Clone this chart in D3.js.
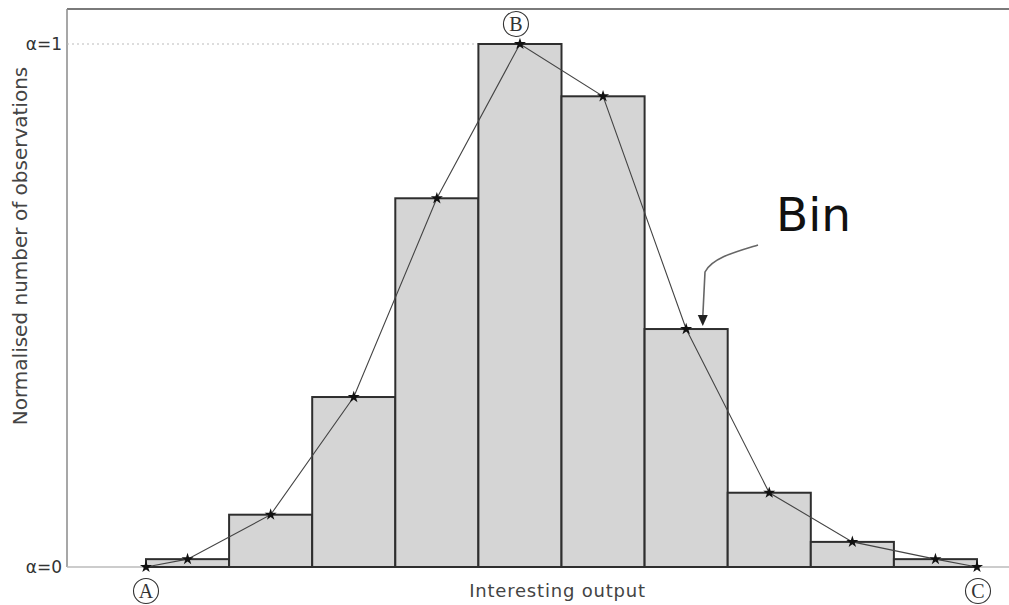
<!DOCTYPE html>
<html><head><meta charset="utf-8">
<script src="https://cdn.jsdelivr.net/npm/d3@7"></script>
<style>body{margin:0;background:#fff}svg{display:block}</style>
</head><body>
<svg id="c" width="1009" height="605"></svg>
<script>
// Data
const binIndex = [0,1,2,3,4,5,6,7,8,9];
const binValues = [0.015, 0.10, 0.325, 0.705, 1.0, 0.90, 0.455, 0.142, 0.048, 0.015];
const yTickValues = [0, 1];
const yTickLabels = ["α=0", "α=1"];
const pointLabels = ["A", "B", "C"];
const xTitle = "Interesting output";
const yTitle = "Normalised number of observations";
const annotationText = "Bin";

const svg = d3.select("#c");
const x = d3.scaleLinear().domain([0, 10]).range([146, 977]);
const y = d3.scaleLinear().domain([0, 1]).range([567, 44]);
const frameLeft = 67, frameTop = 9, frameRight = 1009;

// frame
svg.append("line").attr("x1", frameLeft).attr("x2", frameRight).attr("y1", frameTop).attr("y2", frameTop)
  .attr("stroke", "#7a7a7a").attr("stroke-width", 2);
svg.append("line").attr("x1", frameLeft).attr("x2", frameLeft).attr("y1", frameTop).attr("y2", y(0))
  .attr("stroke", "#8a8a8a").attr("stroke-width", 1.5);
svg.append("line").attr("x1", frameLeft).attr("x2", frameRight).attr("y1", y(0)).attr("y2", y(0))
  .attr("stroke", "#bbb").attr("stroke-width", 1.5);

// dotted alpha=1 line
svg.append("line").attr("x1", frameLeft).attr("x2", x(4)).attr("y1", y(1)).attr("y2", y(1))
  .attr("stroke", "#bbb").attr("stroke-width", 1).attr("stroke-dasharray", "2,3");

// y tick labels
svg.selectAll(".yt").data(yTickValues).enter().append("text")
  .attr("x", 62).attr("y", d => y(d)).attr("dy", "0.35em")
  .attr("text-anchor", "end").attr("font-family", "DejaVu Sans, sans-serif")
  .attr("font-size", 17).attr("fill", "#333")
  .text((d, i) => yTickLabels[i]);

// bars
svg.selectAll(".bar").data(binIndex).enter().append("rect")
  .attr("x", d => x(d)).attr("width", d => x(d + 1) - x(d))
  .attr("y", d => y(binValues[d])).attr("height", d => y(0) - y(binValues[d]))
  .attr("fill", "#d5d5d5").attr("stroke", "#2e2e2e").attr("stroke-width", 2);

// polyline through bin centres
const pts = [[0, 0]].concat(binIndex.map(i => [i + 0.5, binValues[i]])).concat([[10, 0]]);
svg.append("path").datum(pts)
  .attr("d", d3.line().x(d => x(d[0])).y(d => y(d[1])))
  .attr("fill", "none").attr("stroke", "#444").attr("stroke-width", 1.1);
svg.selectAll(".star").data(pts).enter().append("path")
  .attr("d", d3.symbol().type(d3.symbolStar).size(45))
  .attr("transform", d => `translate(${x(d[0])},${y(d[1])})`)
  .attr("fill", "#111");

// circled labels
const labelPos = [[0, 0, 24, 0], [4.5, 1, -20, -4], [10, 0, 24, 1]];
labelPos.forEach((p, i) => {
  const cx = x(p[0]) + p[3], cy = y(p[1]) + p[2];
  svg.append("circle").attr("cx", cx).attr("cy", cy).attr("r", 12.5)
    .attr("fill", "none").attr("stroke", "#333").attr("stroke-width", 1.1);
  svg.append("text").attr("x", cx).attr("y", cy).attr("dy", "0.36em")
    .attr("text-anchor", "middle").attr("font-family", "Liberation Serif, serif")
    .attr("font-size", 20).attr("fill", "#333").text(pointLabels[i]);
});

// axis titles
svg.append("text").attr("x", x(5) - 4).attr("y", 597)
  .attr("text-anchor", "middle").attr("font-family", "DejaVu Sans, sans-serif")
  .attr("font-size", 18).attr("letter-spacing", 0.8).attr("fill", "#444").text(xTitle);
svg.append("text").attr("transform", "translate(27,246) rotate(-90)")
  .attr("text-anchor", "middle").attr("font-family", "DejaVu Sans, sans-serif")
  .attr("font-size", 20).attr("fill", "#444").text(yTitle);

// annotation
svg.append("text").attr("x", 776).attr("y", 231)
  .attr("font-family", "DejaVu Sans, sans-serif").attr("font-size", 47)
  .attr("fill", "#111").text(annotationText);
const ax = x(6.7), ay = y(binValues[6]);
svg.append("path")
  .attr("d", `M758,245 C735,252 712,258 705,272 L${ax},${ay - 12}`)
  .attr("fill", "none").attr("stroke", "#666").attr("stroke-width", 1.6);
svg.append("path")
  .attr("d", `M${ax - 5},${ay - 14} L${ax + 5},${ay - 14} L${ax},${ay - 3} Z`)
  .attr("fill", "#222");
</script>
</body></html>
